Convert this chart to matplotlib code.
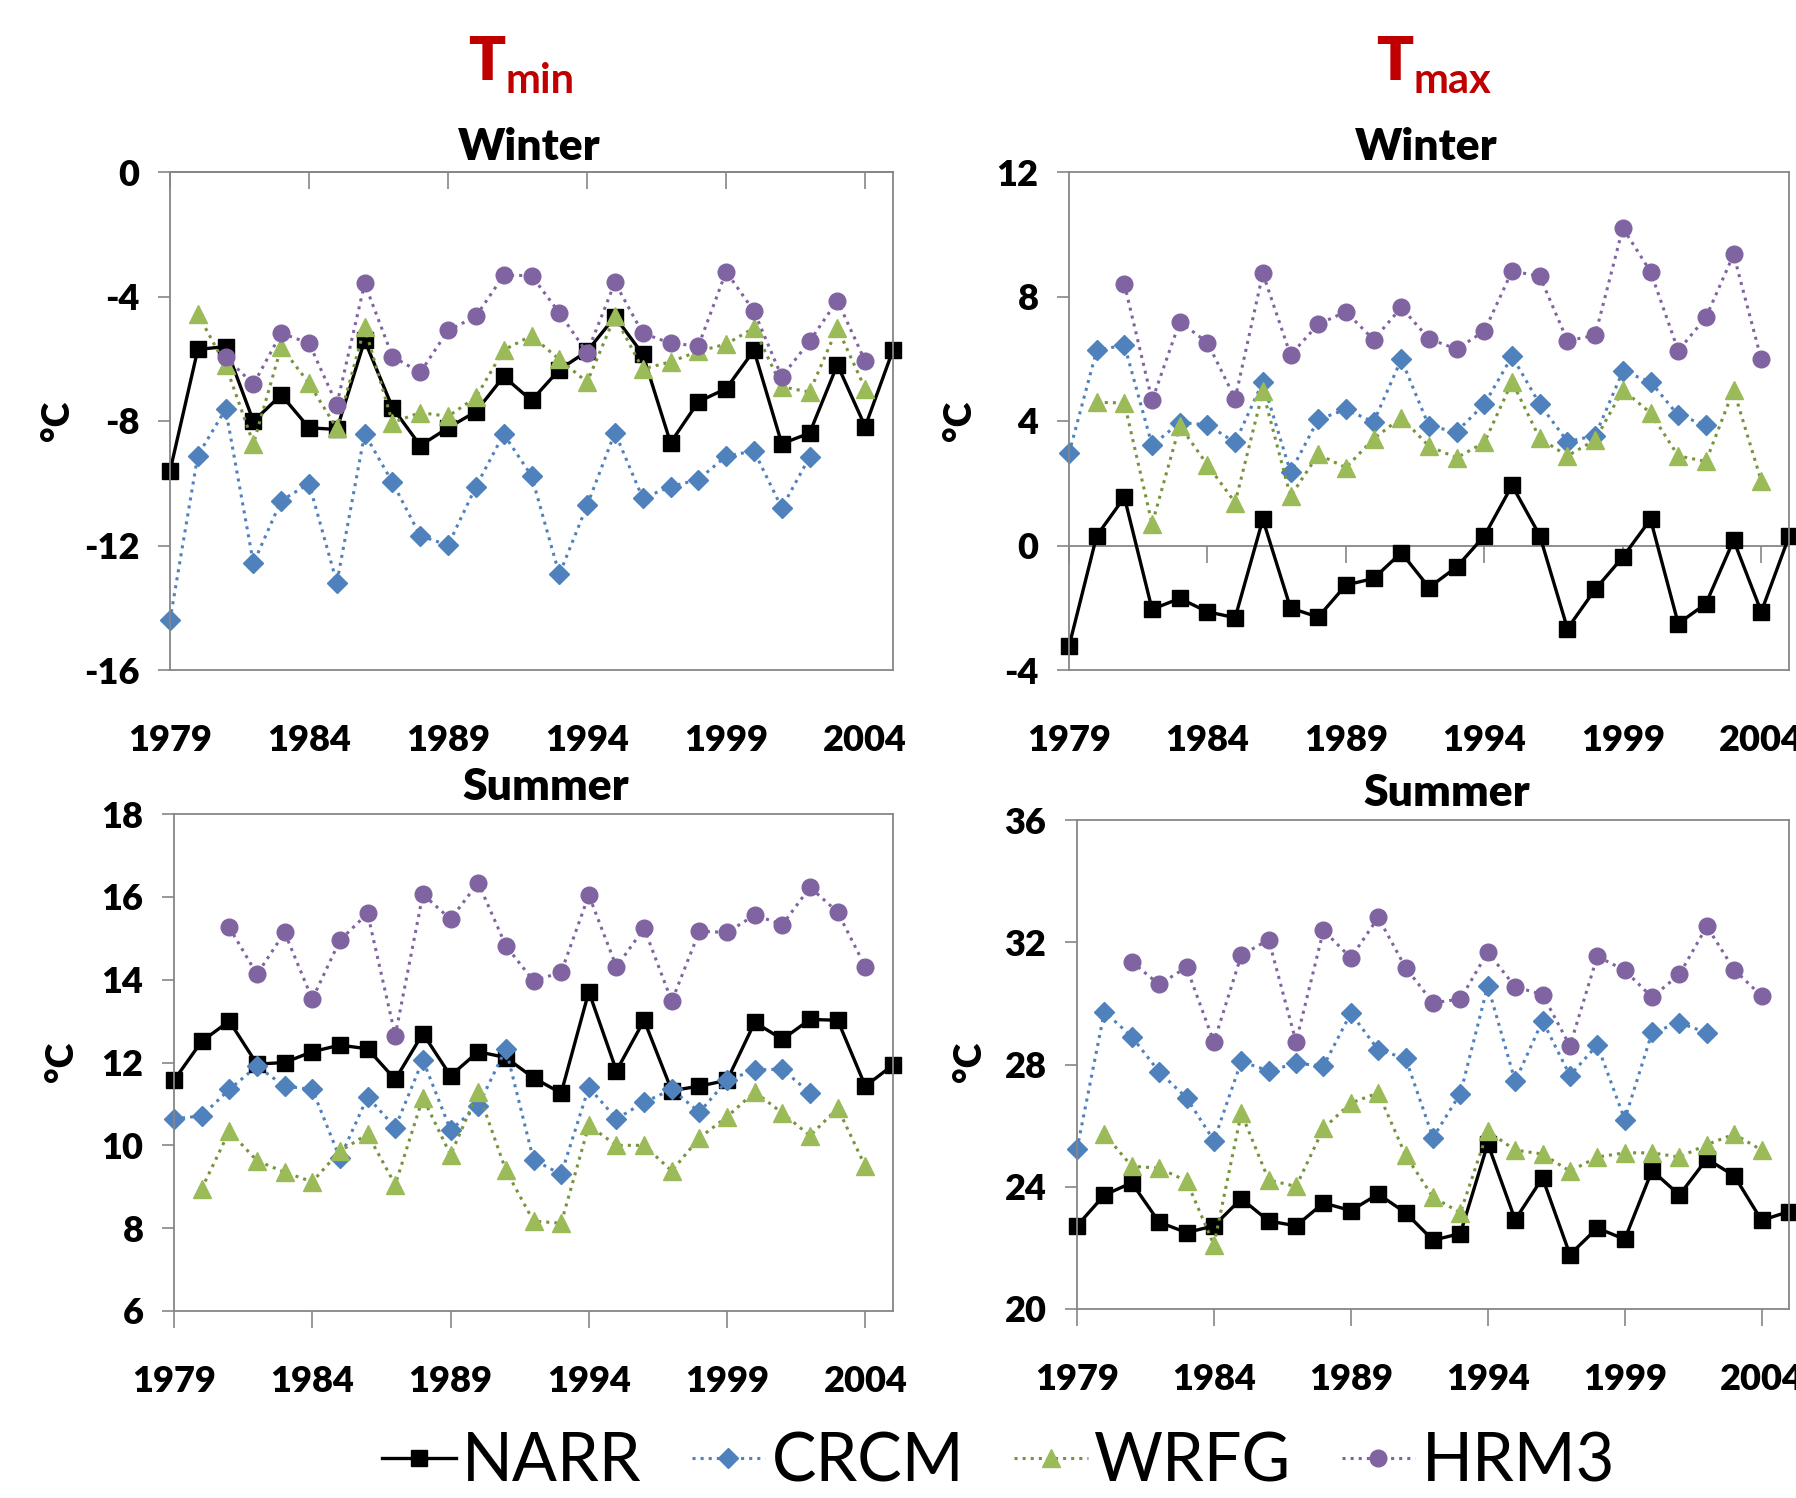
import matplotlib
matplotlib.use("Agg")
import matplotlib.pyplot as plt
import numpy as np

plt.rcParams['font.family'] = ['Lato', 'DejaVu Sans']
plt.rcParams['axes.unicode_minus'] = False

years_narr = list(range(1979, 2006))
years_crcm = list(range(1979, 2003))
years_wrfg = list(range(1980, 2005))
years_hrm3 = list(range(1981, 2005))

# Tmin winter
tmin_w_narr = [-9.61, -5.70, -5.61, -8.01, -7.16, -8.22, -8.27, -5.41, -7.57, -8.79, -8.22, -7.70, -6.57, -7.34,
               -6.35, -5.76, -4.65, -5.85, -8.70, -7.38, -6.96, -5.73, -8.73, -8.39, -6.19, -8.18, -5.72]
tmin_w_crcm = [-14.40, -9.11, -7.62, -12.57, -10.56, -10.01, -13.20, -8.41, -9.97, -11.69, -11.99, -10.11, -8.42,
               -9.76, -12.93, -10.71, -8.37, -10.48, -10.11, -9.88, -9.13, -8.96, -10.79, -9.16]
tmin_w_wrfg = [-4.56, -6.21, -8.73, -5.62, -6.79, -8.24, -4.99, -8.05, -7.73, -7.85, -7.24, -5.72, -5.26, -6.02,
               -6.75, -4.64, -6.33, -6.10, -5.76, -5.53, -5.01, -6.90, -7.07, -5.01, -6.96]
tmin_w_hrm3 = [-5.95, -6.82, -5.18, -5.50, -7.47, -3.58, -5.93, -6.44, -5.09, -4.64, -3.32, -3.33, -4.52, -5.81,
               -3.55, -5.18, -5.50, -5.59, -3.20, -4.47, -6.58, -5.44, -4.13, -6.08]

# Tmax winter
tmax_w_narr = [-3.24, 0.31, 1.55, -2.05, -1.70, -2.13, -2.32, 0.84, -2.01, -2.30, -1.27, -1.06, -0.23, -1.35,
               -0.69, 0.31, 1.93, 0.32, -2.67, -1.41, -0.37, 0.84, -2.51, -1.87, 0.17, -2.13, 0.29]
tmax_w_crcm = [2.96, 6.27, 6.44, 3.22, 3.95, 3.88, 3.31, 5.26, 2.36, 4.05, 4.37, 3.97, 5.98, 3.83, 3.66, 4.54,
               6.08, 4.54, 3.34, 3.53, 5.60, 5.26, 4.18, 3.88]
tmax_w_wrfg = [4.60, 4.58, 0.69, 3.85, 2.59, 1.38, 4.95, 1.58, 2.93, 2.50, 3.43, 4.11, 3.19, 2.82, 3.31, 5.26,
               3.44, 2.88, 3.39, 5.00, 4.26, 2.88, 2.70, 5.00, 2.07]
tmax_w_hrm3 = [8.40, 4.66, 7.19, 6.52, 4.72, 8.74, 6.12, 7.11, 7.51, 6.61, 7.65, 6.64, 6.31, 6.89, 8.82, 8.65,
               6.58, 6.75, 10.20, 8.80, 6.26, 7.33, 9.35, 5.98]

# Tmin summer
tmin_s_narr = [11.57, 12.51, 13.00, 11.96, 12.00, 12.26, 12.42, 12.33, 11.59, 12.70, 11.68, 12.26, 12.12, 11.63,
               11.26, 13.71, 11.80, 13.02, 11.32, 11.43, 11.57, 12.97, 12.56, 13.04, 13.02, 11.43, 11.94]
tmin_s_crcm = [10.64, 10.71, 11.35, 11.91, 11.43, 11.35, 9.69, 11.17, 10.43, 12.06, 10.37, 10.95, 12.33, 9.65,
               9.30, 11.40, 10.64, 11.04, 11.35, 10.80, 11.57, 11.82, 11.84, 11.26]
tmin_s_wrfg = [8.95, 10.34, 9.63, 9.35, 9.12, 9.86, 10.27, 9.05, 11.15, 9.77, 11.29, 9.40, 8.17, 8.12, 10.48,
               10.00, 10.00, 9.38, 10.18, 10.69, 11.29, 10.78, 10.23, 10.90, 9.49]
tmin_s_hrm3 = [15.26, 14.13, 15.14, 13.53, 14.95, 15.60, 12.65, 16.06, 15.46, 16.34, 14.82, 13.97, 14.18, 16.04,
               14.31, 15.24, 13.48, 15.17, 15.14, 15.56, 15.33, 16.23, 15.63, 14.31]

# Tmax summer
tmax_s_narr = [22.72, 23.73, 24.13, 22.84, 22.50, 22.72, 23.61, 22.88, 22.72, 23.47, 23.22, 23.76, 23.15, 22.25,
               22.47, 25.41, 22.92, 24.29, 21.78, 22.65, 22.28, 24.53, 23.73, 24.91, 24.36, 22.90, 23.19]
tmax_s_crcm = [25.23, 29.73, 28.91, 27.76, 26.91, 25.51, 28.10, 27.79, 28.04, 27.95, 29.68, 28.48, 28.20, 25.61,
               27.05, 30.58, 27.45, 29.43, 27.64, 28.64, 26.20, 29.05, 29.36, 29.04]
tmax_s_wrfg = [25.73, 24.67, 24.61, 24.19, 22.10, 26.41, 24.22, 24.01, 25.91, 26.74, 27.07, 25.03, 23.66, 23.15,
               25.82, 25.20, 25.07, 24.51, 24.97, 25.11, 25.11, 24.97, 25.38, 25.72, 25.20]
tmax_s_hrm3 = [31.36, 30.62, 31.18, 28.73, 31.58, 32.08, 28.74, 32.39, 31.49, 32.81, 31.17, 30.02, 30.14, 31.68,
               30.54, 30.29, 28.61, 31.54, 31.08, 30.20, 30.95, 32.52, 31.10, 30.24]

xticks = [1979, 1984, 1989, 1994, 1999, 2004]
series_names = ['NARR', 'CRCM', 'WRFG', 'HRM3']

GRAY = '#868686'
TICK_FS = 26
HEAVY = 'heavy'

fig = plt.figure(figsize=(17.96, 14.98), dpi=100)
W, H = 1796, 1498


def ax_rect(l, t, r, b):
    return [l / W, 1 - b / H, (r - l) / W, (b - t) / H]


panels = [
    dict(rect=ax_rect(170, 172, 893, 670), ylim=(-16, 0), yticks=[-16, -12, -8, -4, 0],
         data=(tmin_w_narr, tmin_w_crcm, tmin_w_wrfg, tmin_w_hrm3), cross=0, title='Winter',
         tpos=(529, 147), ylab=(58, 421)),
    dict(rect=ax_rect(1069, 172, 1789, 670), ylim=(-4, 12), yticks=[-4, 0, 4, 8, 12],
         data=(tmax_w_narr, tmax_w_crcm, tmax_w_wrfg, tmax_w_hrm3), cross=0, title='Winter',
         tpos=(1426, 147), ylab=(960, 421)),
    dict(rect=ax_rect(174, 814, 893, 1311), ylim=(6, 18), yticks=[6, 8, 10, 12, 14, 16, 18],
         data=(tmin_s_narr, tmin_s_crcm, tmin_s_wrfg, tmin_s_hrm3), cross=None, title='Summer',
         tpos=(546, 787), ylab=(62, 1062)),
    dict(rect=ax_rect(1077, 820, 1789, 1309), ylim=(20, 36), yticks=[20, 24, 28, 32, 36],
         data=(tmax_s_narr, tmax_s_crcm, tmax_s_wrfg, tmax_s_hrm3), cross=None, title='Summer',
         tpos=(1447, 793), ylab=(970, 1062)),
]

styles = [
    dict(color='black', ls='-', lw=2.4, marker='s', ms=11, mfc='black', mec='black'),
    dict(color='#4F81BD', ls=':', lw=2.2, marker='D', ms=10, mfc='#4F81BD', mec='#4F81BD'),
    dict(color='#77933C', ls=':', lw=2.2, marker='^', ms=13, mfc='#9BBB59', mec='#9BBB59'),
    dict(color='#8064A2', ls=':', lw=2.2, marker='o', ms=12, mfc='#8064A2', mec='#8064A2'),
]
years_list = [years_narr, years_crcm, years_wrfg, years_hrm3]

handles = []
for p in panels:
    ax = fig.add_axes(p['rect'])
    for name, yrs, vals, st in zip(series_names, years_list, p['data'], styles):
        h, = ax.plot(yrs, vals, label=name, clip_on=False, **st)
        if p is panels[0]:
            handles.append(h)
    ax.set_xlim(1979, 2005)
    ax.set_ylim(*p['ylim'])
    ax.set_yticks(p['yticks'])
    ax.set_xticks(xticks)
    for s in ax.spines.values():
        s.set_color(GRAY)
        s.set_linewidth(1.3)
    ax.tick_params(axis='y', direction='out', length=9, width=1.2, color=GRAY, pad=13,
                   labelsize=TICK_FS)
    for lbl in ax.get_yticklabels():
        lbl.set_fontweight(HEAVY)
    if p['cross'] is not None:
        ymin, ymax = p['ylim']
        loc = (p['cross'] - ymin) / (ymax - ymin)
        ax.tick_params(axis='x', length=0, pad=39, labelsize=TICK_FS)
        sec = ax.secondary_xaxis(loc)
        sec.set_xticks(xticks)
        sec.tick_params(axis='x', labelbottom=False, labeltop=False, length=12, width=1.2,
                        color=GRAY, direction='in' if loc >= 0.5 else 'out')
        for s in sec.spines.values():
            s.set_color(GRAY)
            s.set_linewidth(1.3)
    else:
        ax.tick_params(axis='x', direction='out', length=12, width=1.2, color=GRAY, pad=27,
                       labelsize=TICK_FS)
    for lbl in ax.get_xticklabels():
        lbl.set_fontweight(HEAVY)
    fig.text(p['tpos'][0] / W, 1 - p['tpos'][1] / H, p['title'], ha='center', va='center',
             fontsize=32, fontweight=HEAVY)
    fig.text(p['ylab'][0] / W, 1 - p['ylab'][1] / H, '°C', rotation=90, ha='center', va='center',
             fontsize=27, fontweight=HEAVY)

# Column headers T_min / T_max
RED = '#C00000'
for tx, sub in [(505, 'min'), (1413, 'max')]:
    fig.text(tx / W, 1 - 80 / H, 'T', ha='right', va='baseline', fontsize=44, fontweight=HEAVY, color=RED)
    fig.text((tx + 1) / W, 1 - 93 / H, sub, ha='left', va='baseline', fontsize=30, fontweight='bold',
             color=RED)

fig.legend(handles=handles, labels=series_names, loc='center', bbox_to_anchor=(0.556, 0.024), ncol=4,
           frameon=False, fontsize=48, handlelength=1.1, handletextpad=0.1, columnspacing=0.75,
           borderpad=0.1)

fig.savefig('out.png', dpi=100)
